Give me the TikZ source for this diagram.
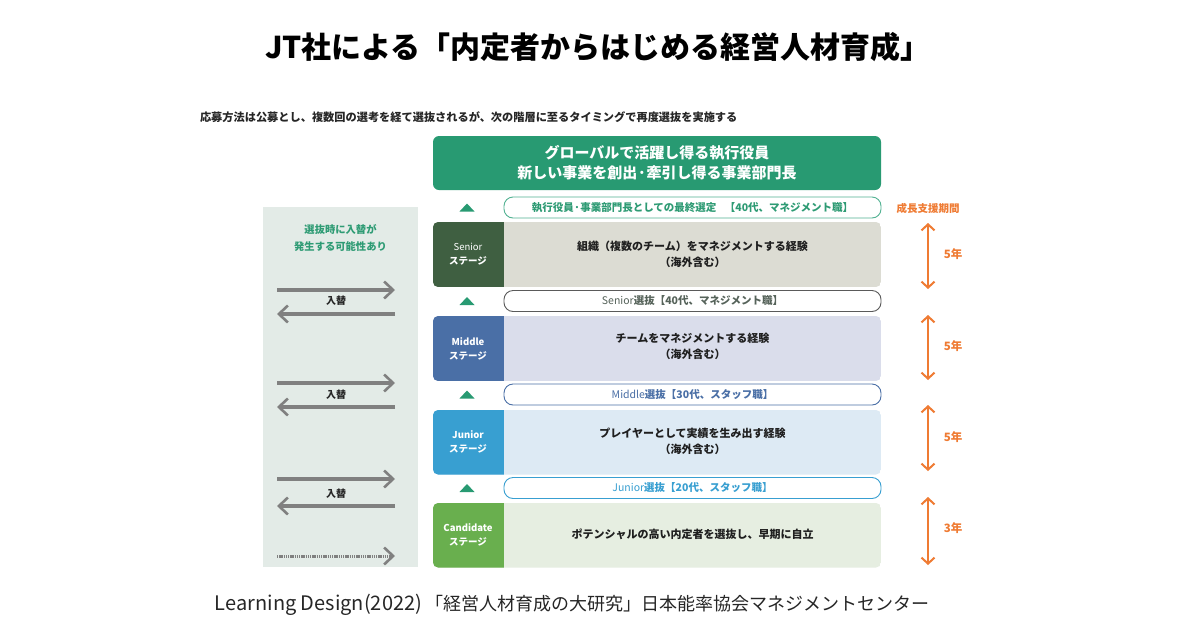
\documentclass[tikz,border=0pt]{standalone}
\usepackage{fontspec}
\setmainfont{Noto Sans CJK JP}
\usetikzlibrary{arrows.meta}
\definecolor{bannergreen}{HTML}{289A72}
\definecolor{panelc}{HTML}{E3EBE7}
\definecolor{paneltext}{HTML}{2E9B74}
\definecolor{grayarrow}{HTML}{808080}
\definecolor{orangec}{HTML}{EF7B33}
\definecolor{seniordark}{HTML}{3F5F41}
\definecolor{seniorlight}{HTML}{DCDCD3}
\definecolor{middledark}{HTML}{4A6FA6}
\definecolor{middlelight}{HTML}{DADDEB}
\definecolor{juniordark}{HTML}{389FD1}
\definecolor{juniorlight}{HTML}{DDEAF4}
\definecolor{canddark}{HTML}{69AF4E}
\definecolor{candlight}{HTML}{E6EEE1}
\definecolor{pillonec}{HTML}{52B292}
\definecolor{pillonet}{HTML}{2E9B74}
\definecolor{seniorpillc}{HTML}{5A5A5A}
\definecolor{seniorpillt}{HTML}{56635A}
\tikzset{
  every node/.style={inner sep=0pt, outer sep=0pt},
  titlestyle/.style={font=\fontsize{30}{34}\selectfont\bfseries},
  substyle/.style={font=\fontsize{11.2}{12}\selectfont\bfseries, text=black!85},
  captionstyle/.style={font=\fontsize{18}{20}\selectfont, text=black!85},
  bannerbox/.style={fill=bannergreen, rounded corners=6pt, minimum width=448pt, minimum height=54pt,
    text=white, align=center, font=\fontsize{15}{20}\selectfont\bfseries},
  pillbox/.style={draw, fill=white, rounded corners=9pt, line width=0.9pt, minimum width=377pt,
    minimum height=21pt, font=\fontsize{10.5}{12}\selectfont\bfseries},
  stagelbl/.style={text=white, align=center, font=\fontsize{9.5}{14}\selectfont\bfseries},
  stagetxt/.style={align=center, text=black!88, font=\fontsize{11}{16}\selectfont\bfseries},
  paneltxt/.style={align=center, text=paneltext, font=\fontsize{10.3}{17}\selectfont\bfseries},
  swaplbl/.style={text=black!85, font=\fontsize{10}{12}\selectfont\bfseries},
  yearlbl/.style={text=orangec, font=\fontsize{11.5}{13}\selectfont\bfseries},
  uptri/.style={fill=bannergreen},
  grayarr/.style={draw=grayarrow, line width=3.5pt, -{Straight Barb[length=9pt, width=17pt, line width=2.6pt]}},
  dashline/.style={draw=grayarrow, line width=3pt, dash pattern=on 1.4pt off 0.8pt},
  orarr/.style={draw=orangec, line width=2pt,
    {Straight Barb[length=6pt, width=13pt, line width=2pt]}-{Straight Barb[length=6pt, width=13pt, line width=2pt]}},
}
\begin{document}
\begin{tikzpicture}[x=1pt,y=-1pt]
\useasboundingbox (0,0) rectangle (1200,630);
\fill[white] (0,0) rectangle (1200,630);

% title and subtitle
\node[titlestyle] (title) at (598,47) {JT社による「内定者からはじめる経営人材育成」};
\node[substyle, anchor=west] (subline) at (200,117) {応募方法は公募とし、複数回の選考を経て選抜されるが、次の階層に至るタイミングで再度選抜を実施する};

% left panel
\fill[panelc] (263,207) rectangle (418,567);
\node[paneltxt] (paneltitle) at (340.5,238) {選抜時に入替が\\発生する可能性あり};
\foreach \n/\ya/\yl/\yb in {1/290/301/314, 2/383/395/407, 3/479/494/506}{
  \coordinate (ra\n) at (277,\ya);
  \coordinate (rb\n) at (395,\ya);
  \coordinate (la\n) at (395,\yb);
  \coordinate (lb\n) at (277,\yb);
  \draw[grayarr] (ra\n) -- (rb\n);
  \draw[grayarr] (la\n) -- (lb\n);
  \node[swaplbl] (swap\n) at (336,\yl) {入替};
}
\coordinate (da) at (277,556);
\coordinate (dm) at (390,556);
\coordinate (dtip) at (395,556);
\draw[dashline] (da) -- (dm);
\draw[grayarr] (dm) -- (dtip);

% banner
\node[bannerbox] (banner) at (657,163) {グローバルで活躍し得る執行役員\\新しい事業を創出·牽引し得る事業部門長};

% growth period header
\node[text=orangec, font=\fontsize{10.5}{12}\selectfont\bfseries] (period) at (928,208) {成長支援期間};

% pills and triangles
\node[pillbox, draw=pillonec, text=pillonet] (pillfinal) at (692.5,207.5) {執行役員·事業部門長としての最終選定\hspace{0.8em}【40代、マネジメント職】};
\node[pillbox, draw=seniorpillc, text=seniorpillt, font=\fontsize{10.5}{12}\selectfont] (pillsenior) at (692.5,301) {Senior\textbf{選抜【40代、マネジメント職】}};
\node[pillbox, draw=middledark, text=middledark, font=\fontsize{10.5}{12}\selectfont] (pillmiddle) at (692.5,394.5) {Middle\textbf{選抜【30代、スタッフ職】}};
\node[pillbox, draw=juniordark, text=juniordark, font=\fontsize{10.5}{12}\selectfont] (pilljunior) at (692.5,488) {Junior\textbf{選抜【20代、スタッフ職】}};
\foreach \ty in {207.5,301,394.5,488}{
  \fill[uptri] (459.5,\ty+4) -- (474.5,\ty+4) -- (467,\ty-4) -- cycle;
}

% stage boxes
\foreach \top/\bot/\dk/\lt in {222/287/seniordark/seniorlight, 316/381/middledark/middlelight, 410/474.5/juniordark/juniorlight, 503/567.5/canddark/candlight}{
  \begin{scope}
    \clip[rounded corners=5pt] (433,\top) rectangle (881,\bot);
    \fill[\lt] (433,\top) rectangle (881,\bot);
    \fill[\dk] (433,\top) rectangle (503.5,\bot);
  \end{scope}
}
\node[stagelbl] (lblsenior) at (468,254.5) {\mdseries Senior\\ステージ};
\node[stagetxt] (txtsenior) at (692.5,254.5) {組織（複数のチーム）をマネジメントする経験\\（海外含む）};
\node[stagelbl] (lblmiddle) at (468,348.5) {Middle\\ステージ};
\node[stagetxt] (txtmiddle) at (692.5,346.5) {チームをマネジメントする経験\\（海外含む）};
\node[stagelbl] (lbljunior) at (468,442) {Junior\\ステージ};
\node[stagetxt] (txtjunior) at (692.5,441) {プレイヤーとして実績を生み出す経験\\（海外含む）};
\node[stagelbl] (lblcand) at (468,535) {Candidate\\ステージ};
\node[stagetxt] (txtcand) at (692.5,534) {ポテンシャルの高い内定者を選抜し、早期に自立};

% orange period arrows
\foreach \n/\ya/\yb/\yl/\txt in {1/223/289/254/5年, 2/315/380/346/5年, 3/405/471/437/5年, 4/497/565/528/3年}{
  \coordinate (oa\n) at (928,\ya);
  \coordinate (ob\n) at (928,\yb);
  \draw[orarr] (oa\n) -- (ob\n);
  \node[yearlbl] (yr\n) at (953,\yl) {\txt};
}

% caption
\node[captionstyle] (caption) at (572,605) {{\fontsize{20}{21}\selectfont Learning Design(2022)}\hspace{3pt}「経営人材育成の大研究」日本能率協会マネジメントセンター};
\end{tikzpicture}
\end{document}
